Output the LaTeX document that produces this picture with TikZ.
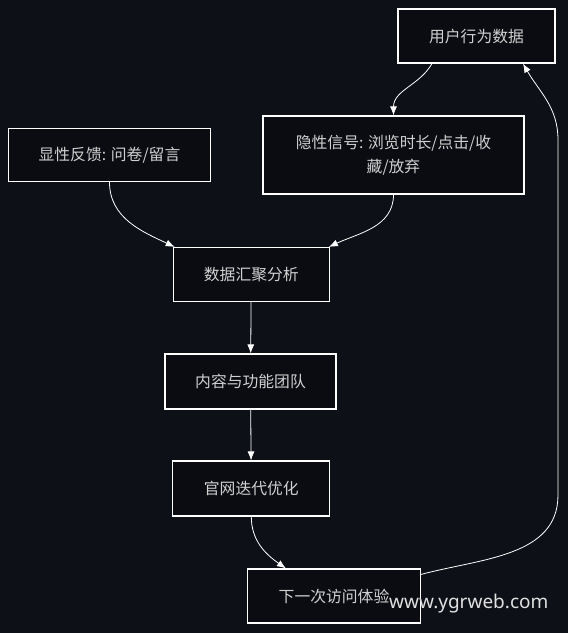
\documentclass[tikz,border=0pt]{standalone}
\usepackage{fontspec}
\newfontfamily\cjk{Noto Sans CJK SC}
\newfontfamily\wmfont{Noto Sans}
\usepackage{tikz}
\usetikzlibrary{arrows.meta,calc}
\definecolor{bgdark}{HTML}{0D1017}
\definecolor{boxfill}{HTML}{0A0C11}
\definecolor{txtgray}{HTML}{D0D0D0}

\begin{document}
\begin{tikzpicture}[x=1pt,y=-1pt,
  box/.style={draw=white,fill=boxfill,line width=1.2pt,inner sep=0pt,
    text=txtgray,font=\cjk\fontsize{15.8}{24}\selectfont,align=center},
  arr/.style={draw=white,line width=0.8pt,-{Latex[length=9pt,width=7pt]}}]
 \fill[bgdark] (0,0) rectangle (568,633);
 \useasboundingbox (0,0) rectangle (568,633);
 % nodes
 \node[box,minimum width=157pt,minimum height=54pt] (user) at (476.5,36) {用户行为数据};
 \node[box,minimum width=261pt,minimum height=78pt] (implicit) at (393.5,155)
   {隐性信号: 浏览时长/点击/收\\藏/放弃};
 \node[box,minimum width=202pt,minimum height=53pt] (explicit) at (109.5,155) {显性反馈: 问卷/留言};
 \node[box,minimum width=156pt,minimum height=54pt] (agg) at (251.3,274.5) {数据汇聚分析};
 \node[box,minimum width=171pt,minimum height=55pt] (team) at (250.5,381.5) {内容与功能团队};
 \node[box,minimum width=157pt,minimum height=55pt] (iter) at (251.3,488.5) {官网迭代优化};
 \node[box,minimum width=173pt,minimum height=54pt] (next) at (334,596) {下一次访问体验};
 % arrows
 \draw[arr] ($(user.south)+(-44.5,0)$) to[out=240,in=90] (implicit.north);
 \draw[arr] (implicit.south) to[out=-90,in=25] ($(agg.north east)+(-1,0)$);
 \draw[arr] (explicit.south) to[out=-90,in=155] ($(agg.north west)+(2,0)$);
 \draw[arr] (agg) -- (team);
 \draw[arr] (team) -- (iter);
 \draw[arr] (iter.south) to[out=-90,in=145] ($(next.north west)+(39,0)$);
 \coordinate (rturn) at (558,495);
 \coordinate (rtop) at (558,140);
 \draw[arr] ($(next.north east)+(0,6)$) to[out=15,in=-90] (rturn) -- (rtop)
   to[out=90,in=-60] ($(user.south)+(46.5,0)$);
 % watermark
 \node[text=white!88!black,font=\wmfont\fontsize{19}{22}\selectfont,anchor=base west,inner sep=0pt]
   (mark) at (389,608) {www.ygrweb.com};
\end{tikzpicture}
\end{document}
